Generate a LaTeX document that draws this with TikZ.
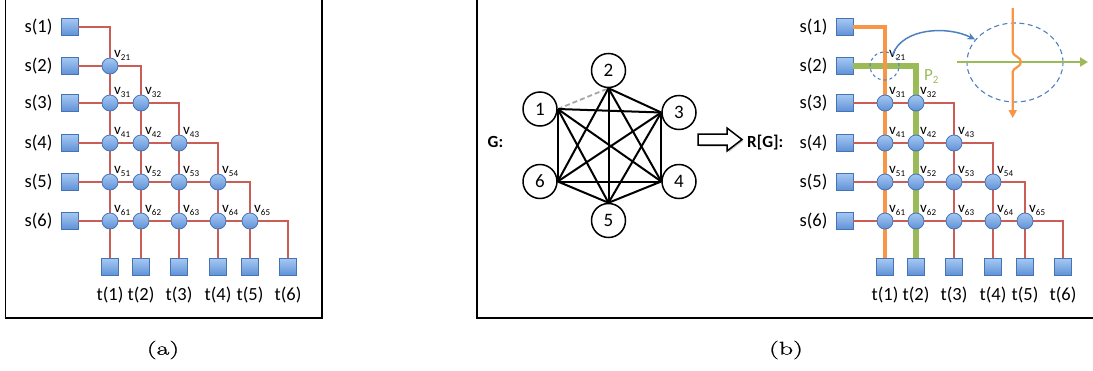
\documentclass[tikz,border=0pt]{standalone}
\usepackage{fontspec}
\usepackage{graphicx}
\newfontfamily\carl{Carlito}
\newfontfamily\capfont{Latin Modern Roman}[RawFeature={embolden=0.8}]
\usetikzlibrary{arrows.meta,calc,shadows,shapes.geometric}
\definecolor{sqtop}{RGB}{165,200,242}
\definecolor{sqbot}{RGB}{95,145,215}
\definecolor{sqdraw}{RGB}{70,115,180}
\definecolor{wire}{RGB}{204,92,86}
\definecolor{owire}{RGB}{247,150,70}
\definecolor{gwire}{RGB}{155,187,89}
\definecolor{dblue}{RGB}{79,129,189}
\newcommand\vsub[1]{v\raisebox{-3pt}{\fontsize{9}{9}\selectfont #1}}
\def\Xs{{110,141,179,218,250,288}}
\def\Ys{{27,66,103,143,182,221}}
\tikzset{
 sq/.style={draw=sqdraw, line width=0.8pt, top color=sqtop, bottom color=sqbot, minimum size=17pt, inner sep=0pt},
 vx/.style={circle, draw=sqdraw, line width=0.8pt, top color=sqtop, bottom color=sqbot, minimum size=16pt, inner sep=0pt},
 redw/.style={draw=wire, line width=2.4pt},
 orw/.style={draw=owire, line width=3.8pt},
 grw/.style={draw=gwire, line width=6.5pt},
 a w1/.style={redw}, a w2/.style={redw}, a w3/.style={redw},
 a w4/.style={redw}, a w5/.style={redw}, a w6/.style={redw},
 b w1/.style={orw}, b w2/.style={grw}, b w3/.style={redw},
 b w4/.style={redw}, b w5/.style={redw}, b w6/.style={redw},
 lab/.style={font=\carl\fontsize{18.5}{20}\selectfont, inner sep=0pt},
 vlab/.style={font=\carl\fontsize{15}{15}\selectfont, inner sep=0pt, anchor=base west},
 gn/.style={circle, draw, line width=1.5pt, minimum size=34pt, inner sep=0pt, font=\carl\fontsize{19}{19}\selectfont},
 ge/.style={line width=2pt},
 frameline/.style={line width=1.2pt},
 boldlab/.style={font=\carl\bfseries\fontsize{17}{17}\selectfont, inner sep=0pt},
 captext/.style={font=\capfont\fontsize{18.5}{18.5}\selectfont, inner sep=0pt},
}
\newcommand\panel[2]{%
 \foreach \i in {1,...,6}{
  \pgfmathsetmacro\yy{\Ys[\i-1]}
  \pgfmathsetmacro\xx{\Xs[\i-1]+#2}
  \node[sq] (#1s\i) at (69.5+#2,\yy) {};
  \node[lab, anchor=east] (#1sl\i) at ([xshift=-8pt]#1s\i.west) {s(\i)};
  \node[sq] (#1t\i) at (\xx,267) {};
  \node[lab] (#1tl\i) at (\xx,295) {t(\i)};
  \coordinate (#1c\i) at (\xx,\yy);
 }
 \foreach \i in {6,5,...,1}{
  \draw[#1 w\i] (#1s\i.east) -- (#1c\i) -- (#1t\i.north);
 }
 \foreach \i in {3,...,6}{
  \pgfmathtruncatemacro\jm{\i-1}
  \foreach \j in {1,...,\jm}{
   \pgfmathsetmacro\xx{\Xs[\j-1]+#2}
   \pgfmathsetmacro\yy{\Ys[\i-1]}
   \node[vx] (#1v\i\j) at (\xx,\yy) {};
   \node[vlab] (#1vl\i\j) at (\xx+4,\yy-8.5) {\vsub{\i\j}};
  }
 }
 \node[vlab] (#1vl21) at (114+#2,57.5) {\vsub{21}};
}
\begin{document}
\begin{tikzpicture}[x=1pt,y=-1pt]
\useasboundingbox (0,0) rectangle (1093,370);
% frames
\draw[frameline] (5.5,-3) -- (5.5,318) -- (322,318) -- (322,-3);
\draw[frameline] (477,-3) -- (477,318) -- (1096,318);
% panel a
\panel{a}{0}
\node[vx] (av21) at (110,66) {};
% panel b
\panel{b}{775}
\node[draw=dblue, dashed, line width=1.1pt, ellipse, minimum width=29pt, minimum height=28pt, inner sep=0pt] (zsrc) at (884.5,66) {};
\node[font=\carl\fontsize{17}{17}\selectfont, text=gwire, inner sep=0pt, anchor=base west] (p2) at (924,80.5) {P\raisebox{-3pt}{\fontsize{11}{11}\selectfont 2}};
% inset
\node[draw=dblue, line width=1.1pt, dash pattern=on 5pt off 3.5pt, ellipse, minimum width=96pt, minimum height=79pt, inner sep=0pt] (zdst) at (1015,62.5) {};
\coordinate (ig1) at (957,62);
\coordinate (ig2) at (1088,62);
\draw[gwire, line width=2.4pt, -{Triangle[length=8pt,width=9pt]}] (ig1) -- (ig2);
\coordinate (io1) at (1012.7,8);
\coordinate (io2) at (1012.7,118);
\draw[owire, line width=2.2pt, -{Triangle[length=8pt,width=8pt]}] (io1) -- (1012.7,52) .. controls (1012.7,56) and (1021,57) .. (1021,62) .. controls (1021,67) and (1012.7,68) .. (1012.7,72) -- (io2);
\draw[dblue, line width=1.5pt, -{Stealth[length=8pt,width=7pt]}] (zsrc.55) .. controls ($(zsrc.55)+(10,-26)$) and ($(zdst.150)+(-28,-14)$) .. (zdst.150);
% graph G
\node[boldlab, anchor=base] (Glab) at (495.5,147) {G:};
\node[gn] (g1) at (540,109) {1};
\node[gn] (g2) at (608.5,70.5) {2};
\node[gn] (g3) at (679,112.5) {3};
\node[gn] (g4) at (679,181.5) {4};
\node[gn] (g5) at (608.5,220.5) {5};
\node[gn] (g6) at (540,181.5) {6};
\coordinate (q1) at (g1.east);
\coordinate (q2) at (g2.south);
\coordinate (q3) at (g3.west);
\coordinate (q4) at (g4.west);
\coordinate (q5) at (g5.north);
\coordinate (q6) at (g6.east);
\draw[gray!70, line width=1.8pt, dash pattern=on 5pt off 3pt] (q1) -- (q2);
\foreach \a/\b in {1/3,1/4,1/5,1/6,2/3,2/4,2/5,2/6,3/4,3/5,3/6,4/5,4/6,5/6}{
 \draw[ge] (q\a) -- (q\b);
}
% block arrow
\path[draw, line width=1.5pt, fill=white, line join=miter, drop shadow={opacity=0.35, shadow xshift=1.5pt, shadow yshift=-1.5pt}] (698,134) -- (727,134) -- (727,128) -- (742,139.5) -- (727,151) -- (727,145) -- (698,145) -- cycle;
\node[boldlab, anchor=base west] (RG) at (747,147) {R[G]:};
% captions
\node[captext] (capa) at (163,350) {\scalebox{1.5}[1]{(a)}};
\node[captext] (capb) at (786,350) {\scalebox{1.5}[1]{(b)}};
\end{tikzpicture}
\end{document}
